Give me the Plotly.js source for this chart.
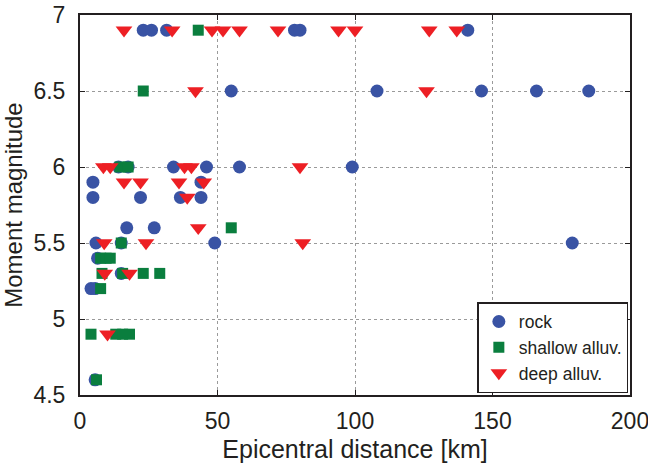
<!DOCTYPE html>
<html><head><meta charset="utf-8">
<script src="https://cdn.plot.ly/plotly-3.0.1.min.js"></script>
<style>body{margin:0;background:#fff}#c{width:648px;height:470px}</style>
</head><body><div id="c"></div>
<script>
const rockX = [23,26,31.5,78,80,141, 55,108,146,166,185, 14,17.5,34,46,58,99, 4.7,44, 4.7,22,36.5,44, 17,27, 5.8,15,49,179, 6.4, 15, 4,5.5, 5.5];
const rockY = [6.9,6.9,6.9,6.9,6.9,6.9, 6.5,6.5,6.5,6.5,6.5, 6.0,6.0,6.0,6.0,6.0,6.0, 5.9,5.9, 5.8,5.8,5.8,5.8, 5.6,5.6, 5.5,5.5,5.5,5.5, 5.4, 5.3, 5.2,5.2, 4.6];
const shallowX = [43, 23, 14.5,17.5, 55, 15, 7.5,9.5,11, 8,15.5,23,29, 7.5, 4,13,15.5,18, 6];
const shallowY = [6.9, 6.5, 6.0,6.0, 5.6, 5.5, 5.4,5.4,5.4, 5.3,5.3,5.3,5.3, 5.2, 4.9,4.9,4.9,4.9, 4.6];
const deepX = [16,33.5,48,52,58,72,94,100,127,137, 42,126, 8.5,11,38,40.5,80, 16,22,36,45, 39, 43, 8.8,24,81, 9,18, 10];
const deepY = [6.9,6.9,6.9,6.9,6.9,6.9,6.9,6.9,6.9,6.9, 6.5,6.5, 6.0,6.0,6.0,6.0,6.0, 5.9,5.9,5.9,5.9, 5.8, 5.6, 5.5,5.5,5.5, 5.3,5.3, 4.9];
const names = ['rock','shallow alluv.','deep alluv.'];

const traces = [
  {x: rockX, y: rockY, name: names[0], mode:'markers', type:'scatter',
   marker:{symbol:'circle', size:13, color:'#3953a4', line:{width:0}}},
  {x: shallowX, y: shallowY, name: names[1], mode:'markers', type:'scatter',
   marker:{symbol:'square', size:11, color:'#0a7e3e', line:{width:0}}},
  {x: deepX, y: deepY, name: names[2], mode:'markers', type:'scatter',
   marker:{symbol:'triangle-down', size:14.5, color:'#ed1f24', line:{width:0}}}
];
const axCommon = {
  showline:true, linecolor:'#231f20', linewidth:2, mirror:'ticks',
  ticks:'inside', ticklen:5, tickcolor:'#231f20', tickwidth:1,
  showgrid:true, gridcolor:'#9a9a9a', griddash:'dot', gridwidth:1,
  zeroline:false, ticklabeloverflow:'allow',
  tickfont:{family:'Liberation Sans, Arial', size:23, color:'#231f20'}
};
const layout = {
  width:648, height:470,
  margin:{l:80, r:18, t:15, b:75},
  paper_bgcolor:'#fff', plot_bgcolor:'#fff',
  font:{family:'Liberation Sans, Arial', color:'#231f20'},
  xaxis: Object.assign({}, axCommon, {range:[0,200], dtick:50, ticklabelstandoff:4,
    title:{text:'Epicentral distance [km]', font:{size:25, color:'#231f20'}, standoff:8}}),
  yaxis: Object.assign({}, axCommon, {range:[4.5,7], dtick:0.5, ticklabelstandoff:8,
    title:{text:'Moment magnitude', font:{size:24, color:'#231f20'}, standoff:4}}),
  showlegend:true,
  legend:{x:0.997, xanchor:'right', y:0.005, yanchor:'bottom', bgcolor:'#fff',
    bordercolor:'#231f20', borderwidth:1.5, font:{size:17.5, color:'#231f20'},
    tracegroupgap:0, itemsizing:'trace'}
};
Plotly.newPlot('c', traces, layout, {displayModeBar:false, staticPlot:true});
</script></body></html>
